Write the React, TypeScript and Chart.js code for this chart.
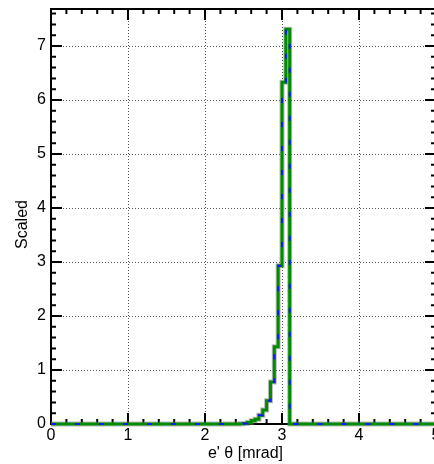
import React, { useEffect, useRef } from "react";
import { Chart, registerables } from "chart.js";

Chart.register(...registerables);

// Histogram bin left edges (mrad) and scaled contents; last edge closes the histogram
const binEdges = [0, 2.45, 2.5, 2.55, 2.6, 2.65, 2.7, 2.75, 2.8, 2.85, 2.9, 2.95, 3.0, 3.05, 3.1, 5.0];
const scaledValues = [0, 0.005, 0.01, 0.03, 0.06, 0.09, 0.16, 0.26, 0.43, 0.78, 1.43, 2.93, 6.33, 7.31, 0, 0];

const xTickLabels = ["0", "1", "2", "3", "4", "5"];
const yTickLabels = ["0", "1", "2", "3", "4", "5", "6", "7"];
const xTitle = "e' θ [mrad]";
const yTitle = "Scaled";

const FONT = "'Liberation Sans', Arial, Helvetica, sans-serif";

const framePlugin = {
  id: "frame",
  beforeDatasetsDraw(chart: any) {
    const { ctx, chartArea } = chart;
    const { left, right, top, bottom } = chartArea;
    const xs = chart.scales.x;
    const ys = chart.scales.y;
    ctx.save();
    // dotted grid
    ctx.strokeStyle = "#555";
    ctx.lineWidth = 1;
    ctx.setLineDash([1, 2]);
    xTickLabels.forEach((t) => {
      const v = Number(t);
      const px = Math.round(xs.getPixelForValue(v)) + 0.5;
      if (px <= left + 2 || px >= right - 2) return;
      ctx.beginPath();
      ctx.moveTo(px, top);
      ctx.lineTo(px, bottom);
      ctx.stroke();
    });
    yTickLabels.forEach((t) => {
      const v = Number(t);
      const py = Math.round(ys.getPixelForValue(v)) + 0.5;
      if (py <= top + 2 || py >= bottom - 2) return;
      ctx.beginPath();
      ctx.moveTo(left, py);
      ctx.lineTo(right, py);
      ctx.stroke();
    });
    ctx.setLineDash([]);
    // frame
    ctx.strokeStyle = "#000";
    ctx.lineWidth = 2;
    ctx.strokeRect(left, top, right - left, bottom - top);
    // ticks
    const major = 11;
    const minor = 5;
    const xMin = xs.min, xMax = xs.max, yMin = ys.min, yMax = ys.max;
    ctx.lineWidth = 2;
    for (let k = 0; k <= Math.round((xMax - xMin) / 0.2); k++) {
      const v = xMin + k * 0.2;
      const isMajor = Math.abs(v - Math.round(v)) < 1e-6;
      const px = xs.getPixelForValue(v);
      const len = isMajor ? major : minor;
      ctx.beginPath();
      ctx.moveTo(px, bottom);
      ctx.lineTo(px, bottom - len);
      ctx.moveTo(px, top);
      ctx.lineTo(px, top + len);
      ctx.stroke();
    }
    for (let k = 0; k <= Math.floor((yMax - yMin) / 0.2 + 1e-6); k++) {
      const v = yMin + k * 0.2;
      const isMajor = Math.abs(v - Math.round(v)) < 1e-6;
      const py = ys.getPixelForValue(v);
      const len = isMajor ? major : minor;
      ctx.beginPath();
      ctx.moveTo(left, py);
      ctx.lineTo(left + len, py);
      ctx.moveTo(right, py);
      ctx.lineTo(right - len, py);
      ctx.stroke();
    }
    // labels
    ctx.fillStyle = "#000";
    ctx.font = `16px ${FONT}`;
    ctx.textAlign = "center";
    ctx.textBaseline = "top";
    xTickLabels.forEach((t) => {
      ctx.fillText(t, xs.getPixelForValue(Number(t)), bottom + 4);
    });
    ctx.textAlign = "right";
    ctx.textBaseline = "middle";
    yTickLabels.forEach((t) => {
      ctx.fillText(t, left - 5, ys.getPixelForValue(Number(t)));
    });
    ctx.font = `16px ${FONT}`;
    ctx.textAlign = "center";
    ctx.textBaseline = "alphabetic";
    ctx.fillText(xTitle, (left + right) / 2 + 2, 458);
    ctx.translate(27, (top + bottom) / 2 + 8);
    ctx.rotate(-Math.PI / 2);
    ctx.fillText(yTitle, 0, 0);
    ctx.restore();
  },
};

export default function App() {
  const ref = useRef<HTMLCanvasElement | null>(null);
  useEffect(() => {
    document.body.style.margin = "0";
    document.body.style.overflow = "hidden";
    const pts = binEdges.map((x, i) => ({ x, y: scaledValues[i] }));
    const chart = new Chart(ref.current as HTMLCanvasElement, {
      type: "line",
      data: {
        datasets: [
          {
            data: pts,
            borderColor: "#1414ff",
            borderWidth: 2,
            borderDash: [5, 19],
            stepped: true,
            pointRadius: 0,
            fill: false,
            clip: 6,
            order: 0,
          },
          {
            data: pts,
            borderColor: "#008c00",
            borderWidth: 3,
            stepped: true,
            pointRadius: 0,
            fill: false,
            clip: 6,
            order: 1,
          },
          {
            data: pts,
            borderColor: "rgba(120,120,120,0.5)",
            borderWidth: 5,
            stepped: true,
            pointRadius: 0,
            fill: false,
            clip: 6,
            order: 2,
          },
        ],
      } as any,
      options: {
        responsive: false,
        animation: false,
        devicePixelRatio: 1,
        layout: { padding: { top: 9, right: 4, left: 0, bottom: 0 } },
        plugins: { legend: { display: false }, tooltip: { enabled: false } },
        scales: {
          x: {
            type: "linear",
            min: 0,
            max: 5,
            grid: { display: false },
            border: { display: false },
            ticks: { display: false },
            afterFit: (s: any) => {
              s.height = 40;
            },
          },
          y: {
            type: "linear",
            min: 0,
            max: 7.685,
            grid: { display: false },
            border: { display: false },
            ticks: { display: false, stepSize: 1, includeBounds: false },
            afterFit: (s: any) => {
              s.width = 51;
            },
          },
        },
      } as any,
      plugins: [framePlugin],
    });
    return () => chart.destroy();
  }, []);
  return (
    <div style={{ width: 434, height: 464, overflow: "hidden", position: "relative" }}>
      <canvas ref={ref} width={440} height={464} style={{ display: "block" }} />
    </div>
  );
}
